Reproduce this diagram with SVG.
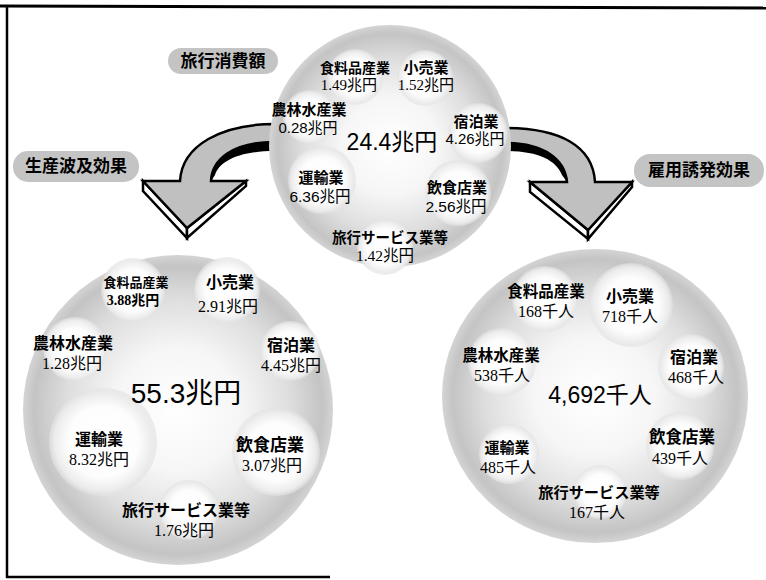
<svg xmlns="http://www.w3.org/2000/svg" width="766" height="580" viewBox="0 0 766 580">
<defs>
<radialGradient id="gBig" cx="50%" cy="50%" r="50%">
<stop offset="0" stop-color="#ffffff"/>
<stop offset="0.4" stop-color="#f6f6f6"/>
<stop offset="0.72" stop-color="#dedede"/>
<stop offset="0.93" stop-color="#c4c4c4"/>
<stop offset="1" stop-color="#d4d4d4"/>
</radialGradient>
<radialGradient id="gSub" cx="50%" cy="50%" r="50%">
<stop offset="0" stop-color="#ffffff"/>
<stop offset="0.65" stop-color="#fdfdfd"/>
<stop offset="0.9" stop-color="#ececec"/>
<stop offset="1" stop-color="#e2e2e2" stop-opacity="0.6"/>
</radialGradient>
<style>
.big{fill:url(#gBig)}
.sub{fill:url(#gSub)}
.pill{fill:#c4c4c4}
.lab{font-family:"Noto Sans CJK JP","Liberation Sans",sans-serif;font-weight:bold;text-anchor:middle;fill:#000}
.val{font-family:"Liberation Serif","Noto Sans CJK JP",serif;text-anchor:middle;fill:#000}
.vals{font-family:"Liberation Sans","Noto Sans CJK JP",sans-serif;text-anchor:middle;fill:#000}
.tot{font-family:"Liberation Sans","Noto Sans CJK JP",sans-serif;text-anchor:middle;fill:#000}
.ttl{font-family:"Noto Sans CJK JP","Liberation Sans",sans-serif;font-weight:bold;font-size:17px;text-anchor:middle;fill:#000}
.arr{fill:#c0c0c0;stroke:#000;stroke-width:2.5;stroke-linejoin:miter}
.side{fill:#fff;stroke:#000;stroke-width:2.5;stroke-linejoin:miter}
.frame{stroke:#000;fill:none}
</style>
</defs>
<rect width="766" height="580" fill="#fff"/>
<g id="frame">
<line class="frame" x1="0" y1="6" x2="766" y2="8" stroke-width="3"/>
<line class="frame" x1="7" y1="5" x2="7" y2="578" stroke-width="2.5"/>
<line class="frame" x1="6" y1="577" x2="330" y2="577" stroke-width="2.5"/>
</g>
<g id="connectors">
<polygon class="side" points="143,181 143,191 187,238 187,228"/>
<polygon class="side" points="246,181 246,186 187,238 187,228"/>
<path class="arr" d="M275,124 C222,124 182,145 180,181 L143,181 L187,228 L246,181 L211,181 C212,160 232,142 275,142 Z"/>
<path d="M275,142 C232,142 212,160 211,181 L215,175 C219,162 238,151 275,151 Z" fill="#000"/>
<polygon class="side" points="530,182 530,192 588,239 588,230"/>
<polygon class="side" points="632,182 632,187 588,239 588,230"/>
<path class="arr" d="M505,128 C560,128 593,146 595,182 L632,182 L588,230 L530,182 L567,182 C565,160 545,143 505,143 Z"/>
<path d="M505,143 C545,143 565,160 567,182 L562,175 C556,160 538,151 505,151 Z" fill="#000"/>
</g>
<g id="top-circle">
<circle class="big" cx="390" cy="146" r="121"/>
<circle class="sub" cx="355" cy="77" r="28"/>
<circle class="sub" cx="425" cy="78" r="28"/>
<circle class="sub" cx="310" cy="117" r="27"/>
<circle class="sub" cx="478" cy="133" r="30"/>
<circle class="sub" cx="322" cy="180" r="34"/>
<circle class="sub" cx="458" cy="193" r="33"/>
<circle class="sub" cx="385" cy="247" r="28"/>
<text class="lab" x="355" y="73" font-size="14">食料品産業</text>
<text class="val" x="349" y="90" font-size="15">1.49兆円</text>
<text class="lab" x="426" y="73" font-size="15">小売業</text>
<text class="val" x="426" y="90" font-size="15">1.52兆円</text>
<text class="lab" x="309" y="115" font-size="15">農林水産業</text>
<text class="vals" x="308" y="133" font-size="15">0.28兆円</text>
<text class="tot" x="392" y="150" font-size="23">24.4兆円</text>
<text class="lab" x="476" y="127" font-size="15">宿泊業</text>
<text class="vals" x="475" y="144" font-size="15">4.26兆円</text>
<text class="lab" x="321" y="183" font-size="15">運輸業</text>
<text class="vals" x="320" y="202" font-size="15.5">6.36兆円</text>
<text class="lab" x="457" y="193" font-size="15">飲食店業</text>
<text class="vals" x="456" y="212" font-size="15.5">2.56兆円</text>
<text class="lab" x="390" y="243" font-size="14.5">旅行サービス業等</text>
<text class="val" x="385" y="261" font-size="15.5">1.42兆円</text>
</g>
<g id="label-consumption">
<rect class="pill" x="168" y="48" width="110" height="26" rx="13"/>
<text class="ttl" x="223" y="67">旅行消費額</text>
</g>
<g id="label-production">
<rect class="pill" x="13" y="151" width="126" height="31" rx="15"/>
<text class="ttl" x="76" y="172">生産波及効果</text>
</g>
<g id="label-employment">
<rect class="pill" x="634" y="154" width="130" height="33" rx="16"/>
<text class="ttl" x="699" y="176">雇用誘発効果</text>
</g>
<g id="production-circle">
<circle class="big" cx="178" cy="410" r="155"/>
<circle class="sub" cx="133" cy="290" r="32"/>
<circle class="sub" cx="227" cy="290" r="33"/>
<circle class="sub" cx="75" cy="349" r="32"/>
<circle class="sub" cx="290" cy="351" r="30"/>
<circle class="sub" cx="103" cy="442" r="54"/>
<circle class="sub" cx="276" cy="452" r="44"/>
<circle class="sub" cx="189" cy="510" r="30"/>
<text class="lab" x="136" y="287" font-size="13">食料品産業</text>
<text class="val" x="133" y="305" font-size="14" font-weight="bold">3.88兆円</text>
<text class="lab" x="230" y="288" font-size="16">小売業</text>
<text class="val" x="228" y="312" font-size="16">2.91兆円</text>
<text class="lab" x="73" y="349" font-size="16">農林水産業</text>
<text class="val" x="72" y="369" font-size="16">1.28兆円</text>
<text class="lab" x="291" y="351" font-size="16">宿泊業</text>
<text class="val" x="291" y="371" font-size="16">4.45兆円</text>
<text class="tot" x="186" y="403" font-size="28">55.3兆円</text>
<text class="lab" x="99" y="445" font-size="16">運輸業</text>
<text class="val" x="99" y="465" font-size="16">8.32兆円</text>
<text class="lab" x="270" y="451" font-size="17">飲食店業</text>
<text class="val" x="272" y="471" font-size="16">3.07兆円</text>
<text class="lab" x="186" y="516" font-size="16">旅行サービス業等</text>
<text class="val" x="184" y="536" font-size="16">1.76兆円</text>
</g>
<g id="employment-circle">
<ellipse class="big" cx="595" cy="396" rx="153" ry="147"/>
<circle class="sub" cx="545" cy="299" r="33"/>
<circle class="sub" cx="631" cy="305" r="42"/>
<circle class="sub" cx="502" cy="362" r="34"/>
<circle class="sub" cx="691" cy="367" r="33"/>
<circle class="sub" cx="509" cy="454" r="30"/>
<circle class="sub" cx="680" cy="446" r="34"/>
<circle class="sub" cx="600" cy="492" r="27"/>
<text class="lab" x="546" y="297" font-size="15.5">食料品産業</text>
<text class="val" x="546" y="317" font-size="16">168千人</text>
<text class="lab" x="630" y="302" font-size="16">小売業</text>
<text class="val" x="630" y="322" font-size="16">718千人</text>
<text class="lab" x="501" y="361" font-size="15.5">農林水産業</text>
<text class="val" x="502" y="381" font-size="16">538千人</text>
<text class="lab" x="694" y="363" font-size="16">宿泊業</text>
<text class="val" x="696" y="383" font-size="16">468千人</text>
<text class="tot" x="600" y="403" font-size="23">4,692千人</text>
<text class="lab" x="507" y="453" font-size="15">運輸業</text>
<text class="val" x="508" y="473" font-size="16">485千人</text>
<text class="lab" x="682" y="443" font-size="16.5">飲食店業</text>
<text class="val" x="680" y="464" font-size="16">439千人</text>
<text class="lab" x="599" y="498" font-size="15.2">旅行サービス業等</text>
<text class="val" x="597" y="518" font-size="16">167千人</text>
</g>
</svg>
